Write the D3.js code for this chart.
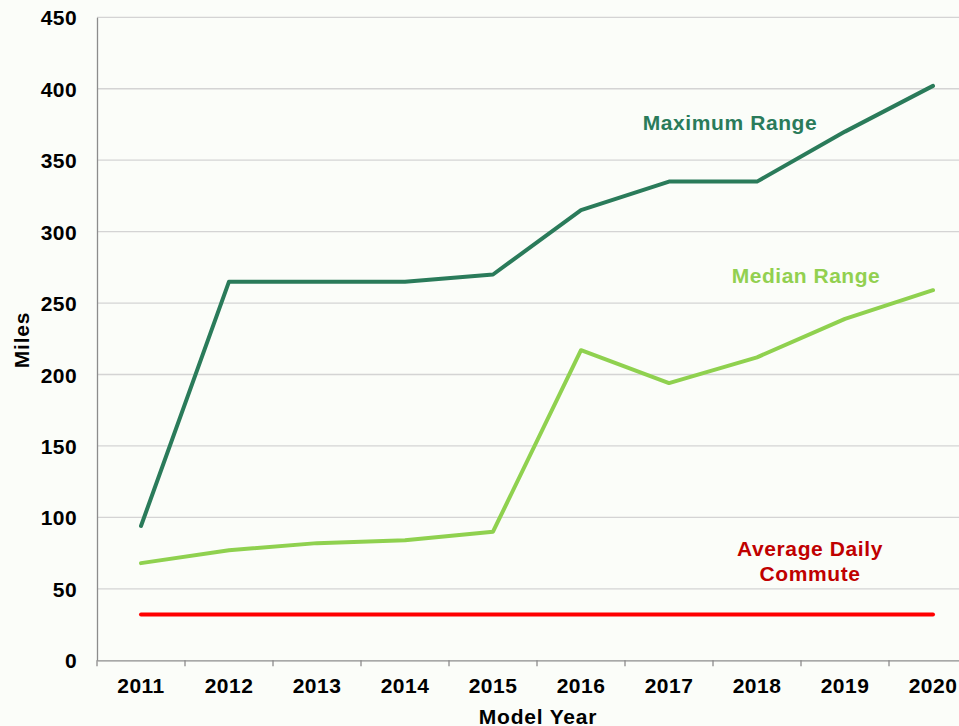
<!DOCTYPE html>
<html>
<head>
<meta charset="utf-8">
<script src="https://cdn.jsdelivr.net/npm/d3@7"></script>
<style>
  body { margin: 0; background: #fbfdf9; }
  text { font-family: "Liberation Sans", Arial, sans-serif; font-weight: bold; }
</style>
</head>
<body>
<div id="graph"></div>
<script>
// data
var years = ["2011", "2012", "2013", "2014", "2015", "2016", "2017", "2018", "2019", "2020"];
var maxRange = [94, 265, 265, 265, 270, 315, 335, 335, 370, 402];
var medianRange = [68, 77, 82, 84, 90, 217, 194, 212, 239, 259];
var commute = [32, 32, 32, 32, 32, 32, 32, 32, 32, 32];
var yTicks = [0, 50, 100, 150, 200, 250, 300, 350, 400, 450];

var w = 959, h = 726;
var vis = d3.select("#graph").append("svg").attr("width", w).attr("height", h);

var padL = 97, padR = 977, padT = 17.3, padB = 660.3;
var fontSize = 21;

var x = d3.scaleBand().domain(years).range([padL, padR]);
var y = d3.scaleLinear().domain([0, 450]).range([padB, padT]);

// gridlines
vis.selectAll("line.grid")
   .data(yTicks.filter(d => d > 0))
   .enter().append("line")
   .attr("class", "grid")
   .attr("x1", padL).attr("x2", w)
   .attr("y1", d => y(d)).attr("y2", d => y(d))
   .attr("stroke", "#d4d4d4").attr("stroke-width", 1.3);

// y axis
var yAxis = vis.append("g")
   .attr("transform", "translate(" + padL + ",0)")
   .call(d3.axisLeft(y).tickValues(yTicks).tickSize(0).tickPadding(20));
yAxis.select(".domain").attr("stroke", "#8c8c8c").attr("stroke-width", 1.3);
yAxis.selectAll("text").attr("font-size", fontSize).attr("fill", "#000").attr("dy", "0.36em")
   .attr("letter-spacing", 0.4)
   .style("font-family", "Liberation Sans, Arial, sans-serif").style("font-weight", "bold");

// x axis
var xAxis = vis.append("g")
   .attr("transform", "translate(0," + padB + ")")
   .call(d3.axisBottom(x).tickSize(0).tickPadding(0));
xAxis.select(".domain").attr("stroke", "#8c8c8c").attr("stroke-width", 1.3);
xAxis.selectAll("text").attr("font-size", fontSize).attr("fill", "#000").attr("y", 33).attr("dy", 0)
   .attr("letter-spacing", 0.5)
   .style("font-family", "Liberation Sans, Arial, sans-serif").style("font-weight", "bold");

// x ticks between categories
vis.selectAll("line.xtick")
   .data(years)
   .enter().append("line")
   .attr("class", "xtick")
   .attr("x1", d => x(d)).attr("x2", d => x(d))
   .attr("y1", padB).attr("y2", padB + 6)
   .attr("stroke", "#8c8c8c").attr("stroke-width", 1.3);

// lines
var line = d3.line()
   .x((d, i) => x(years[i]) + x.bandwidth() / 2)
   .y(d => y(d));

var series = [
  { values: commute, color: "#ff0000" },
  { values: medianRange, color: "#8fd14f" },
  { values: maxRange, color: "#2a7b5a" }
];

vis.selectAll("path.series")
   .data(series)
   .enter().append("path")
   .attr("class", "series")
   .attr("d", d => line(d.values))
   .attr("fill", "none")
   .attr("stroke", d => d.color)
   .attr("stroke-width", 4)
   .attr("stroke-linecap", "round")
   .attr("stroke-linejoin", "round");

// labels
vis.append("text").text("Maximum Range")
   .attr("x", 730).attr("y", 130).attr("text-anchor", "middle")
   .attr("font-size", fontSize).attr("letter-spacing", 0.6).attr("fill", "#2a7b5a");
vis.append("text").text("Median Range")
   .attr("x", 806).attr("y", 283).attr("text-anchor", "middle")
   .attr("font-size", fontSize).attr("letter-spacing", 0.5).attr("fill", "#92d050");
vis.append("text").text("Average Daily")
   .attr("x", 810).attr("y", 556).attr("text-anchor", "middle")
   .attr("font-size", fontSize).attr("letter-spacing", 0.6).attr("fill", "#c00000");
vis.append("text").text("Commute")
   .attr("x", 810).attr("y", 581).attr("text-anchor", "middle")
   .attr("font-size", fontSize).attr("letter-spacing", 0.6).attr("fill", "#c00000");

// axis titles
vis.append("text").text("Model Year")
   .attr("x", 538).attr("y", 724).attr("text-anchor", "middle")
   .attr("font-size", fontSize).attr("letter-spacing", 0.8).attr("fill", "#000");
vis.append("text").text("Miles")
   .attr("transform", "translate(29,340) rotate(-90)")
   .attr("text-anchor", "middle")
   .attr("font-size", fontSize).attr("letter-spacing", 0.8).attr("fill", "#000");
</script>
</body>
</html>
